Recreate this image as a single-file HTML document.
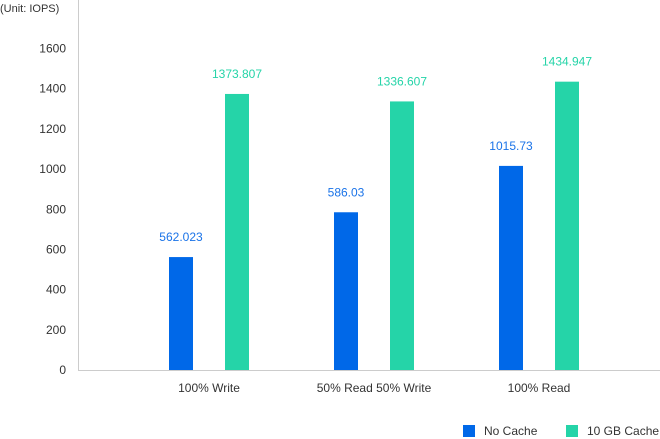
<!DOCTYPE html>
<html><head><meta charset="utf-8"><style>
html,body{margin:0;padding:0;background:#fff;}
svg{display:block;font-family:"Liberation Sans",sans-serif;}
</style></head><body>
<svg id="chart" width="660" height="439"></svg>
<script>
const categories = ["100% Write", "50% Read 50% Write", "100% Read"];
const noCacheValues = [562.023, 785, 1015.73];
const noCacheLabels = ["562.023", "586.03", "1015.73"];
const cacheValues = [1373.807, 1336.607, 1434.947];
const cacheLabels = ["1373.807", "1336.607", "1434.947"];
const yTicks = [0, 200, 400, 600, 800, 1000, 1200, 1400, 1600];

const NS = "http://www.w3.org/2000/svg";
const svg = document.getElementById("chart");
const y0 = 370, yTop = 48.5, yMax = 1600;
const y = v => y0 - v / yMax * (y0 - yTop);
const xCenter = i => 209 + i * 165;
const barW = 24;
function mk(tag, attrs, text) {
  const e = document.createElementNS(NS, tag);
  for (const k in attrs) e.setAttribute(k, attrs[k]);
  if (text !== undefined) e.textContent = text;
  svg.appendChild(e);
  return e;
}
let e;
e = mk("text", {x: 0, y: 12, "font-size": 11, fill: "#333"}, "(Unit: IOPS)");


e = mk("line", {x1: 78.5, y1: 0, x2: 78.5, y2: y0, stroke: "#ccc"});


e = mk("line", {x1: 78, y1: y0 + 0.5, x2: 660, y2: y0 + 0.5, stroke: "#ccc"});


yTicks.forEach(t => {
  const el = mk("text", {x: 66, y: y(t) + 4, "font-size": 12, fill: "#333", "text-anchor": "end"}, String(t));
  
  
});
categories.forEach((c, i) => {
  const cx = xCenter(i);
  const lab = mk("text", {x: cx, y: 392, "font-size": 12, fill: "#333", "text-anchor": "middle"}, c);
  
  
  const bx = cx - 40;
  const b1 = mk("rect", {x: bx, y: y(noCacheValues[i]), width: barW, height: y0 - y(noCacheValues[i]), fill: "#0068e8"});
  
  
  const t1 = mk("text", {x: bx + barW / 2, y: y(noCacheValues[i]) - 16, "font-size": 12, fill: "#1a73e8", "text-anchor": "middle"}, noCacheLabels[i]);
  
  
  const gx = cx + 16;
  const b2 = mk("rect", {x: gx, y: y(cacheValues[i]), width: barW, height: y0 - y(cacheValues[i]), fill: "#25d4a8"});
  
  
  const t2 = mk("text", {x: gx + barW / 2, y: y(cacheValues[i]) - 16, "font-size": 12, fill: "#25d4a8", "text-anchor": "middle"}, cacheLabels[i]);
  
  
});
e = mk("rect", {x: 463, y: 425, width: 12, height: 12, fill: "#0068e8"});


e = mk("text", {x: 484, y: 435, "font-size": 12, fill: "#333"}, "No Cache");


e = mk("rect", {x: 566, y: 425, width: 12, height: 12, fill: "#25d4a8"});


e = mk("text", {x: 587, y: 435, "font-size": 12, fill: "#333"}, "10 GB Cache");


</script>
</body></html>
